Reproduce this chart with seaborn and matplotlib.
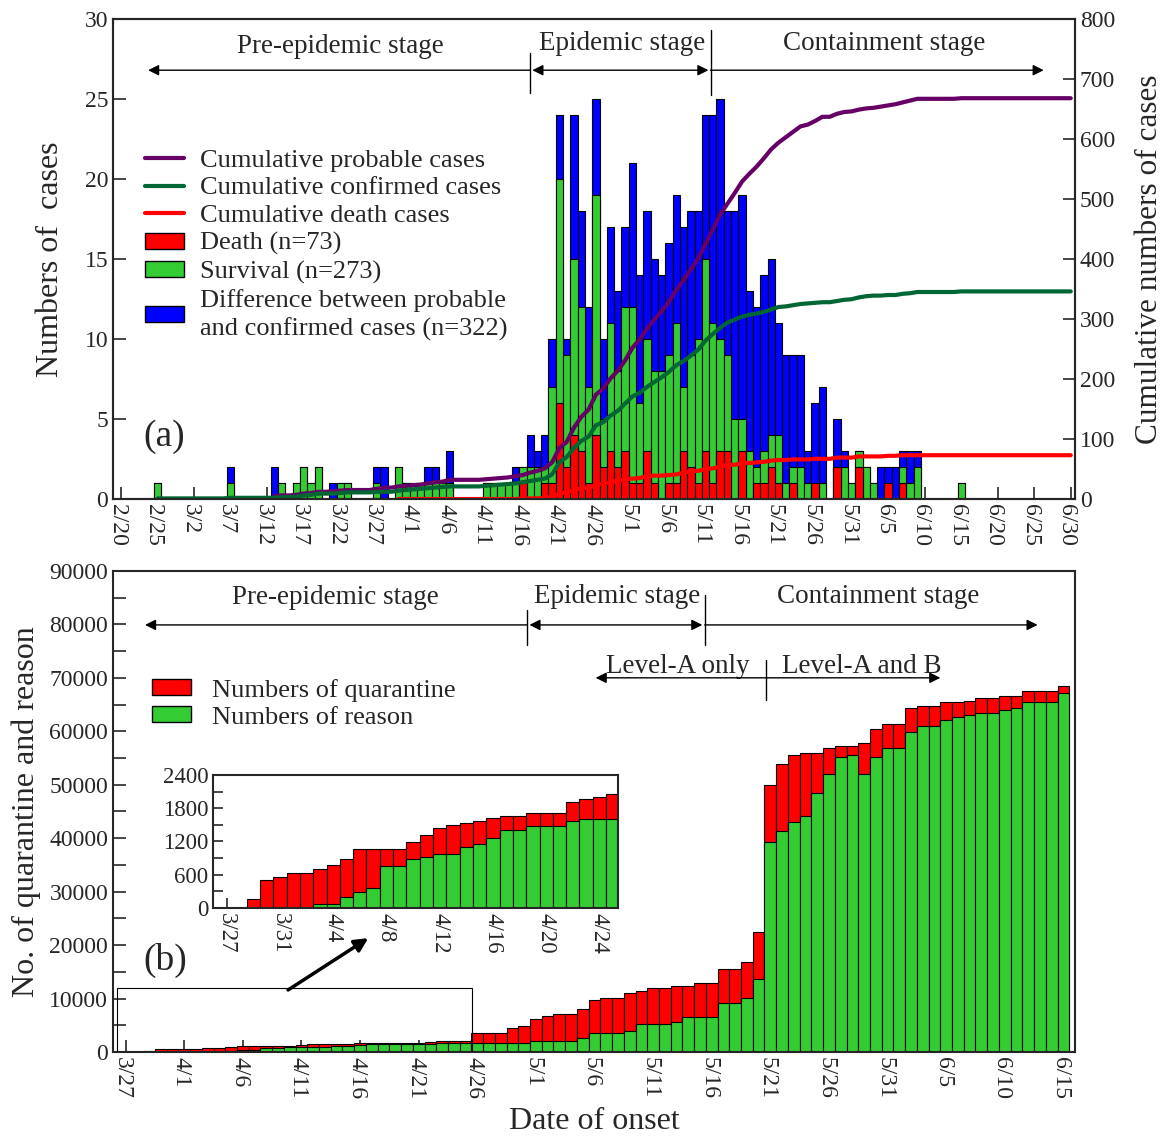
import numpy as np
import pandas as pd
import matplotlib
matplotlib.use('Agg')
import matplotlib.pyplot as plt
import matplotlib.transforms as mtransforms
import seaborn as sns
from matplotlib.patches import Patch, Rectangle
from matplotlib.lines import Line2D

# ---------------- (a) daily cases by date of onset (day 0 = 2/20) ----------------
onset_day = ([5, 15, 21, 22, 24, 25, 26, 27, 29, 30, 31, 35, 36, 38, 39, 40, 41, 42, 43, 44, 45,
              50, 51, 52, 53, 54, 55]
             + list(range(56, 110)) + [115])
death = ([0] * 26 + [1]
         + [0, 0, 1, 1, 6, 2, 4, 3, 1, 4, 2, 3, 2, 3, 1, 1, 3, 1, 0, 1, 1, 3, 2, 1, 3, 1, 3, 3,
            0, 3, 0, 1, 1, 2, 1, 0, 1, 0, 0, 1, 0, 0, 2, 0, 0, 2, 0, 0, 0, 1, 0, 1, 0, 0]
         + [0])
survival = ([1, 1, 0, 1, 1, 2, 1, 2, 0, 1, 1, 1, 0, 2, 1, 1, 1, 1, 1, 1, 1, 1, 1, 1, 1, 1, 1]
            + [2, 2, 1, 6, 14, 7, 11, 9, 6, 15, 3, 8, 6, 9, 11, 5, 7, 7, 8, 8, 10, 4, 7, 9, 12, 10,
               7, 6, 5, 2, 3, 1, 2, 2, 3, 1, 1, 2, 1, 0, 1, 0, 0, 2, 1, 1, 2, 1, 0, 0, 0, 1, 1, 2]
            + [1])
difference = ([0, 1, 2, 0, 0, 0, 0, 0, 1, 0, 0, 1, 2, 0, 0, 0, 0, 1, 1, 0, 2, 0, 0, 0, 0, 1, 0]
              + [2, 1, 2, 3, 4, 1, 9, 6, 5, 6, 5, 6, 5, 5, 9, 8, 8, 7, 6, 7, 8, 10, 9, 8, 9, 13,
                 15, 9, 13, 14, 10, 10, 11, 11, 7, 8, 7, 7, 2, 5, 6, 0, 3, 1, 0, 0, 0, 0, 2, 1, 2, 1, 2, 1]
              + [0])
line_start = {'probable': 21, 'confirmed': 5, 'death': 38}
top_ticklabels = ['2/20', '2/25', '3/2', '3/7', '3/12', '3/17', '3/22', '3/27', '4/1', '4/6',
                  '4/11', '4/16', '4/21', '4/26', '5/1', '5/6', '5/11', '5/16', '5/21', '5/26',
                  '5/31', '6/5', '6/10', '6/15', '6/20', '6/25', '6/30']

# ---------------- (b) cumulative quarantine / release (day 0 = 3/27) ----------------
quarantine = [0, 0, 170, 510, 560, 630, 630, 710, 770, 890,
              1060, 1060, 1060, 1060, 1190, 1320, 1440, 1490, 1530, 1570,
              1620, 1660, 1660, 1710, 1710, 1710, 1910, 1960, 2000, 2050,
              3490, 3490, 3490, 4430, 4870, 6240, 6740, 7050, 7050, 7980,
              9730, 10170, 10170, 11100, 11470, 11920, 11920, 12350, 12350, 12850,
              12850, 15470, 15470, 16780, 22500, 49960, 53900, 55600, 56000, 56000,
              56900, 57300, 57300, 57800, 60400, 61300, 61300, 64400, 64800, 64800,
              65400, 65400, 65700, 66200, 66200, 66600, 66600, 67500, 67500, 67500,
              68500]
reason = [0, 0, 0, 0, 0, 0, 0, 80, 80, 200,
          290, 370, 750, 750, 890, 920, 970, 970, 1100, 1150,
          1270, 1400, 1400, 1480, 1480, 1480, 1570, 1610, 1610, 1610,
          1620, 1620, 1620, 1620, 1620, 2120, 2120, 2120, 2120, 2560,
          3490, 3490, 3490, 3930, 5240, 5240, 5240, 5670, 6610, 6610,
          6610, 9230, 9230, 10170, 13660, 39200, 41400, 43100, 44200, 48500,
          52000, 55100, 55600, 52000, 55100, 56800, 56800, 59900, 60900, 60900,
          62100, 62600, 63100, 63500, 63500, 63900, 64400, 65400, 65400, 65400,
          67100]
bot_ticklabels = ['3/27', '4/1', '4/6', '4/11', '4/16', '4/21', '4/26', '5/1', '5/6', '5/11',
                  '5/16', '5/21', '5/26', '5/31', '6/5', '6/10', '6/15']
inset_ticklabels = ['3/27', '3/31', '4/4', '4/8', '4/12', '4/16', '4/20', '4/24']

RED, GREEN, BLUE = '#ff0000', '#33cc33', '#0000ff'
PURPLE, DKGREEN = '#660066', '#006633'

sns.set_style('ticks')
plt.rcParams['font.family'] = ['Liberation Serif', 'DejaVu Serif']
plt.rcParams['axes.linewidth'] = 1.5

fig = plt.figure(figsize=(11.69, 11.38), dpi=100)
ax = fig.add_axes([0.0967, 0.5615, 0.823, 0.4218])
axb = fig.add_axes([0.0967, 0.0756, 0.823, 0.4227])


def bars(axis, x, y, color):
    x = np.asarray(x)
    y = np.asarray(y)
    keep = y > 0
    sns.barplot(x=x[keep], y=y[keep], native_scale=True, width=1, color=color, saturation=1,
                edgecolor='black', linewidth=0.8, errorbar=None, ax=axis)


def arrow(axis, x0, x1, y, style):
    axis.annotate('', xy=(x1, y), xytext=(x0, y),
                  arrowprops=dict(arrowstyle=style, color='black', lw=1, shrinkA=0, shrinkB=0,
                                  mutation_scale=16))


def nudge_xlabels(axis, dx_px):
    off = mtransforms.ScaledTranslation(dx_px / 100, 0, fig.dpi_scale_trans)
    for lab in axis.get_xticklabels():
        lab.set_transform(lab.get_transform() + off)


# ---- panel (a) ----
df = pd.DataFrame({'day': onset_day, 'death': death, 'survival': survival, 'diff': difference})
df['confirmed'] = df['death'] + df['survival']
df['probable'] = df['confirmed'] + df['diff']

bars(ax, df['day'], df['probable'], BLUE)
bars(ax, df['day'], df['confirmed'], GREEN)
bars(ax, df['day'], df['death'], RED)

daily = df.set_index('day')[['death', 'confirmed', 'probable']].reindex(range(0, 131), fill_value=0)
cum = daily.cumsum()
ax2 = ax.twinx()
for col, colr in [('probable', PURPLE), ('confirmed', DKGREEN), ('death', RED)]:
    c = cum.loc[line_start[col]:]
    sns.lineplot(x=c.index, y=c[col].values, ax=ax2, color=colr, linewidth=3)

ax.set_xlim(-1.1, 130.6)
ax.set_ylim(0, 30)
ax2.set_ylim(0, 800)
ax.set_xticks(range(0, 131, 5))
ax.set_xticklabels(top_ticklabels, rotation=-90)
ax.set_yticks(range(0, 31, 5))
ax2.set_yticks(range(0, 801, 100))
for a in (ax, ax2):
    a.tick_params(direction='in', length=9, width=1.2, labelsize=17)
nudge_xlabels(ax, -4)
ax.set_ylabel('Numbers of  cases', fontsize=23, labelpad=14)
ax2.set_ylabel('Cumulative numbers of cases', fontsize=22.5, labelpad=14)
ax.set_xlabel('')

handles = [Line2D([], [], color=PURPLE, lw=3), Line2D([], [], color=DKGREEN, lw=3),
           Line2D([], [], color=RED, lw=3),
           Patch(facecolor=RED, edgecolor='black'), Patch(facecolor=GREEN, edgecolor='black'),
           Patch(facecolor=BLUE, edgecolor='black')]
labels = ['Cumulative probable cases', 'Cumulative confirmed cases', 'Cumulative death cases',
          'Death (n=73)', 'Survival (n=273)',
          'Difference between probable\nand confirmed cases (n=322)']
leg = ax2.legend(handles, labels, loc='upper left', bbox_to_anchor=(0.033, 0.728), frameon=False,
                 fontsize=19, handlelength=1.5, handleheight=0.55, labelspacing=0.2,
                 handletextpad=0.6, borderaxespad=0, borderpad=0)
for t in leg.get_texts():
    t.set_linespacing(1.3)

ax.text(30, 28.3, 'Pre-epidemic stage', ha='center', va='center', fontsize=19.5)
ax.text(68.6, 28.5, 'Epidemic stage', ha='center', va='center', fontsize=19.5)
ax.text(104.4, 28.5, 'Containment stage', ha='center', va='center', fontsize=19.5)
arrow(ax, 56.0, 3.7, 26.8, '-|>')
arrow(ax, 56.3, 80.4, 26.8, '<|-|>')
arrow(ax, 80.7, 126.3, 26.8, '-|>')
ax.plot([56, 56], [25.4, 27.9], color='black', lw=1)
ax.plot([80.7, 80.7], [25.25, 29.3], color='black', lw=1)
ax.text(5.9, 3.9, '(a)', ha='center', va='center', fontsize=27)

# ---- panel (b) ----
bdays = np.arange(len(quarantine))
bars(axb, bdays, quarantine, RED)
bars(axb, bdays, reason, GREEN)
axb.set_xlim(-1.07, 81.0)
axb.set_ylim(0, 90000)
axb.set_xticks(range(0, 81, 5))
axb.set_xticklabels(bot_ticklabels, rotation=-90)
axb.set_yticks(range(0, 90001, 10000))
axb.set_yticks(range(5000, 90000, 10000), minor=True)
axb.tick_params(which='both', direction='in', length=9, width=1.2, labelsize=17)
nudge_xlabels(axb, -3)
axb.set_ylabel('No. of quarantine and reason', fontsize=23, labelpad=6)
axb.set_xlabel('Date of onset', fontsize=23, labelpad=6)
axb.legend([Patch(facecolor=RED, edgecolor='black'), Patch(facecolor=GREEN, edgecolor='black')],
           ['Numbers of quarantine', 'Numbers of reason'], loc='upper left',
           bbox_to_anchor=(0.040, 0.776), frameon=False, fontsize=19, handlelength=1.5,
           handleheight=0.55, labelspacing=0.18, handletextpad=0.8, borderaxespad=0, borderpad=0)

axb.text(17.9, 85000, 'Pre-epidemic stage', ha='center', va='center', fontsize=19.5)
axb.text(41.9, 85300, 'Epidemic stage', ha='center', va='center', fontsize=19.5)
axb.text(64.2, 85300, 'Containment stage', ha='center', va='center', fontsize=19.5)
arrow(axb, 34.25, 1.66, 79900, '-|>')
arrow(axb, 34.45, 49.2, 79900, '<|-|>')
arrow(axb, 49.4, 77.8, 79900, '-|>')
axb.plot([34.25, 34.25], [76200, 82700], color='black', lw=1)
axb.plot([49.4, 49.4], [76200, 85500], color='black', lw=1)
axb.text(47.1, 72200, 'Level-A only', ha='center', va='center', fontsize=19.5)
axb.text(62.8, 72200, 'Level-A and B', ha='center', va='center', fontsize=19.5)
arrow(axb, 40.1, 69.5, 70000, '<|-|>')
axb.plot([54.6, 54.6], [65900, 73400], color='black', lw=1)
axb.text(3.36, 17200, '(b)', ha='center', va='center', fontsize=27)
axb.add_patch(Rectangle((-0.71, 0), 30.3, 11900, fill=False, lw=0.8, ec='black', zorder=5))
axb.annotate('', xy=(20.7, 21300), xytext=(13.86, 11600),
             arrowprops=dict(arrowstyle='-|>', color='black', lw=2.5, shrinkA=0, shrinkB=0,
                             mutation_scale=20))

# ---- inset ----
axi = fig.add_axes([0.1822, 0.2021, 0.3465, 0.1169])
idays = np.arange(30)
bars(axi, idays, quarantine[:30], RED)
bars(axi, idays, reason[:30], GREEN)
axi.set_xlim(-1.03, 29.4)
axi.set_ylim(0, 2400)
axi.set_xticks(range(0, 29, 4))
axi.set_xticklabels(inset_ticklabels, rotation=-90)
axi.set_yticks(range(0, 2401, 600))
axi.set_yticks(range(300, 2400, 600), minor=True)
axi.tick_params(which='both', direction='in', length=7, width=1.2, labelsize=16.5)
axi.set_xlabel('')
axi.set_ylabel('')

fig.savefig('out.png', dpi=100)
